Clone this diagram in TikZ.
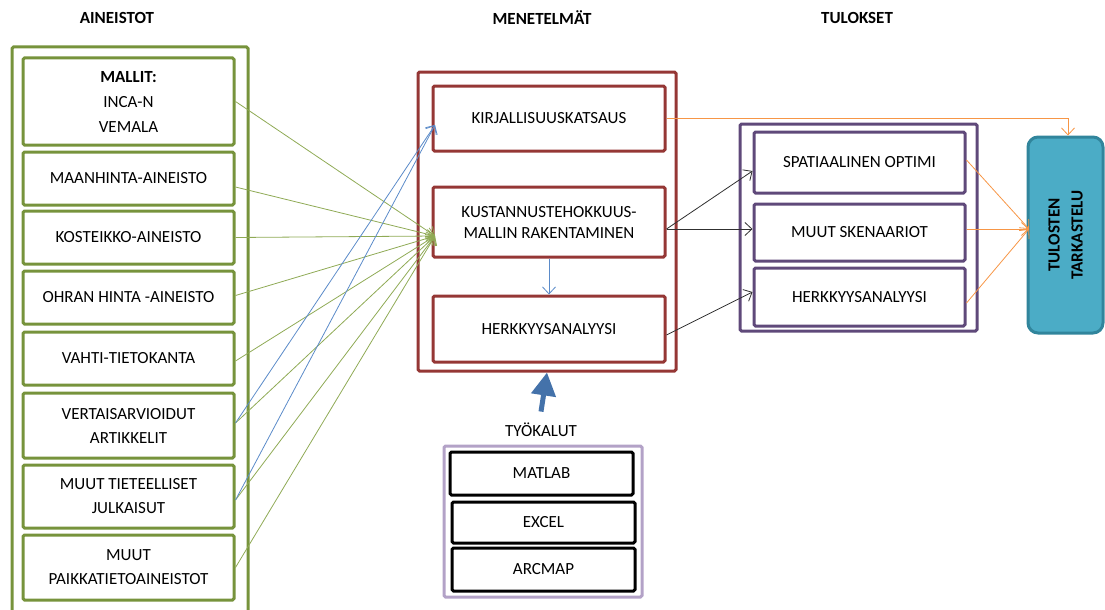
\documentclass[tikz,border=0pt]{standalone}
\usepackage{fontspec}
\setmainfont{Carlito}
\usetikzlibrary{arrows.meta}
\definecolor{gOut}{HTML}{77933C}
\definecolor{gLine}{HTML}{8FAA55}
\definecolor{rOut}{HTML}{953735}
\definecolor{pOut}{HTML}{5F497A}
\definecolor{lav}{HTML}{B3A2C7}
\definecolor{orng}{HTML}{F79646}
\definecolor{bLine}{HTML}{5B8BC9}
\definecolor{tealF}{HTML}{4BACC6}
\definecolor{tealB}{HTML}{31859C}
\definecolor{bigB}{HTML}{4472AA}
\definecolor{dk}{HTML}{303030}
\begin{document}
\begin{tikzpicture}[x=1pt,y=-1pt,
  txt/.style={font=\fontsize{17}{24}\selectfont, align=center, text=black},
  hdr/.style={font=\fontsize{17}{20}\selectfont\bfseries},
  gbox/.style={txt, draw=gOut, line width=3pt, rounded corners=1.5pt, minimum width=211pt, inner sep=0pt},
  rbox/.style={txt, draw=rOut, line width=3pt, rounded corners=1.5pt, minimum width=232pt, inner sep=0pt},
  pbox/.style={txt, draw=pOut, line width=3pt, rounded corners=1.5pt, minimum width=211pt, inner sep=0pt},
  kbox/.style={txt, draw=black, line width=3pt, rounded corners=1.5pt, minimum width=183pt, inner sep=0pt},
  outbox/.style={line width=3pt, rounded corners=1.5pt, inner sep=0pt},
  tip/.style={-{Straight Barb[length=7pt,width=13pt]}},
  garr/.style={tip, draw=gLine, line width=0.8pt},
  barr/.style={tip, draw=bLine, line width=0.8pt},
  karr/.style={tip, draw=dk, line width=0.8pt},
  oarr/.style={tip, draw=orng, line width=0.8pt}
]
\useasboundingbox (0,0) rectangle (1105,610);

% headers
\node[hdr] (h1) at (117,18) {AINEISTOT};
\node[hdr] (h2) at (542,18) {MENETELMÄT};
\node[hdr] (h3) at (857,18) {TULOKSET};

% outer boxes
\draw[gOut, line width=3pt, rounded corners=1.5pt] (12,47) -- (248,47) -- (248,625) -- (12,625) -- cycle;
\node[outbox, draw=rOut, minimum width=258pt, minimum height=299pt] (menet) at (547,221.5) {};
\node[outbox, draw=pOut, minimum width=237pt, minimum height=207pt] (tulok) at (858.5,227.5) {};
\node[outbox, draw=lav, minimum width=198pt, minimum height=151pt] (tyobox) at (543,521.5) {};

% left data boxes
\node[gbox, minimum height=87pt, font=\fontsize{17}{25}\selectfont] (m1) at (128.5,101.5) {\textbf{MALLIT:}\\INCA-N\\VEMALA};
\node[gbox, minimum height=53pt] (m2) at (128.5,178.5) {MAANHINTA-AINEISTO};
\node[gbox, minimum height=53pt] (m3) at (128.5,237.5) {KOSTEIKKO-AINEISTO};
\node[gbox, minimum height=53pt] (m4) at (128.5,297.5) {OHRAN HINTA -AINEISTO};
\node[gbox, minimum height=53pt] (m5) at (128.5,358.5) {VAHTI-TIETOKANTA};
\node[gbox, minimum height=65pt] (m6) at (128.5,425.5) {VERTAISARVIOIDUT\\ARTIKKELIT};
\node[gbox, minimum height=63pt] (m7) at (128.5,496.5) {MUUT TIETEELLISET\\JULKAISUT};
\node[gbox, minimum height=65pt] (m8) at (128.5,567.5) {MUUT\\PAIKKATIETOAINEISTOT};

% method boxes
\node[rbox, minimum height=65pt] (k1) at (549,118.5) {KIRJALLISUUSKATSAUS};
\node[rbox, minimum height=70pt, font=\fontsize{17}{21}\selectfont] (k2) at (549,222) {KUSTANNUSTEHOKKUUS-\\MALLIN RAKENTAMINEN};
\node[rbox, minimum height=66pt] (k3) at (549,329) {HERKKYYSANALYYSI};

% result boxes
\node[pbox, minimum height=61pt] (t1) at (859.5,162.5) {SPATIAALINEN OPTIMI};
\node[pbox, minimum height=57pt] (t2) at (859.5,232.5) {MUUT SKENAARIOT};
\node[pbox, minimum height=58pt] (t3) at (859.5,297) {HERKKYYSANALYYSI};

% final box
\node[draw=tealB, fill=tealF, line width=3pt, rounded corners=10pt, minimum width=75pt, minimum height=196pt, inner sep=0pt] (tul) at (1065.5,235) {};
\node[rotate=90, font=\fontsize{17}{23}\selectfont\bfseries, align=center] (tultxt) at (tul.center) {TULOSTEN\\TARKASTELU};

% tools
\node[txt] (tyo) at (541,430) {TYÖKALUT};
\node[kbox, minimum height=43pt] (x1) at (541.5,473.5) {MATLAB};
\node[kbox, minimum height=41pt] (x2) at (543.5,522.5) {EXCEL};
\node[kbox, minimum height=43pt] (x3) at (543.5,569.5) {ARCMAP};

% connection points
\coordinate (kin) at (435,236);
\coordinate (kbin) at (435,125);

% green arrows
\draw[garr] ([yshift=0pt]m1.east) -- (kin);
\draw[garr] ([yshift=-8.5pt]m2.east) -- (kin);
\draw[garr] (m3.east) -- (kin);
\draw[garr] ([yshift=2pt]m4.east) -- (kin);
\draw[garr] ([yshift=-2.5pt]m5.east) -- (kin);
\draw[garr] ([yshift=2.5pt]m6.east) -- (kin);
\draw[garr] ([yshift=-3.5pt]m7.east) -- (kin);
\draw[garr] (m8.east) -- (kin);

% blue arrows
\draw[barr] ([yshift=2.5pt]m6.east) -- (kbin);
\draw[barr] ([yshift=-3.5pt]m7.east) -- (kbin);
\draw[barr] (k2.south) -- (k3.north);

% black arrows
\draw[karr] ([yshift=-7pt]k2.east) -- ([yshift=-8.5pt]t1.west);
\draw[karr] ([yshift=-7pt]k2.east) -- ([yshift=3.5pt]t2.west);
\draw[karr] ([yshift=-6pt]k3.east) -- ([yshift=5pt]t3.west);

% orange arrows
\coordinate (tin) at (1029,229);
\draw[oarr] ([yshift=2.5pt]t1.east) -- (tin);
\draw[oarr] ([yshift=3.5pt]t2.east) -- (tin);
\draw[oarr] ([yshift=-6pt]t3.east) -- (tin);
\draw[oarr] (k1.east) -- (1068,118.5) -- ([xshift=2.5pt]tul.north);

% big arrow
\draw[bigB, line width=5pt, -{Triangle[length=23pt,width=24pt]}] ([yshift=8pt]tyo.north) -- (menet.south);
\end{tikzpicture}
\end{document}
